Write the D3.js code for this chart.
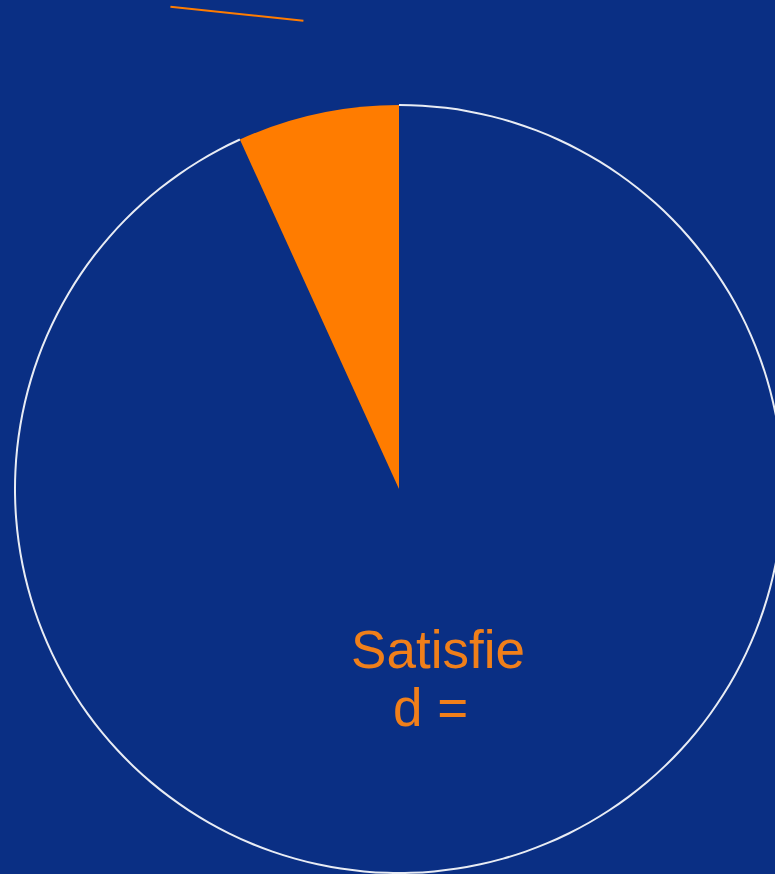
<!DOCTYPE html>
<html>
<head>
<meta charset="utf-8">
<script src="https://cdn.jsdelivr.net/npm/d3@7"></script>
<style>
  html, body { margin: 0; padding: 0; background: #0a2f84; overflow: hidden; }
  svg { display: block; }
</style>
</head>
<body>
<div id="viz"></div>
<script>
// pie data (percent)
const categories = ['Other', 'Satisfied'];
const values = [93.2, 6.8];
const labelLines = ['Satisfie', 'd = '];

const width = 775,
  height = 874,
  cx = 399,
  cy = 489,
  radius = 384;

const color = d3.scaleOrdinal()
  .domain(categories)
  .range(['#0a2f84', '#ff7c00']);

const svg = d3.select('#viz')
  .append('svg')
  .attr('width', width)
  .attr('height', height);

svg.append('rect')
  .attr('width', width)
  .attr('height', height)
  .attr('fill', '#0a2f84');

const g = svg.append('g')
  .attr('transform', 'translate(' + cx + ',' + cy + ')');

const pie = d3.pie()
  .sort(null)
  .value(d => d)
  (values);

const path = d3.arc()
  .outerRadius(radius)
  .innerRadius(0);

// thin white rim only along the outer edge of the big slice
const rim = d3.arc()
  .outerRadius(radius + 1)
  .innerRadius(radius - 1);

const arc = g.selectAll('.arc')
  .data(pie)
  .enter().append('g')
  .attr('class', 'arc');

arc.append('path')
  .attr('d', path)
  .attr('fill', (d, i) => color(categories[i]));

arc.filter((d, i) => i === 0)
  .append('path')
  .attr('d', rim)
  .attr('fill', '#e8ecf4');

// leader line for the small slice (label sits off the top)
const small = pie[1];
const mid = (small.startAngle + small.endAngle) / 2;
const lead = d3.arc().innerRadius(radius * 1.248).outerRadius(radius * 1.248);
const p0 = lead.centroid({ startAngle: mid, endAngle: mid });
g.append('line')
  .attr('x1', p0[0] + 6)
  .attr('y1', p0[1])
  .attr('x2', p0[0] + 6 - 133)
  .attr('y2', p0[1] - 14)
  .attr('stroke', '#ff7c00')
  .attr('stroke-width', 2);

// label of the big slice
const label = g.append('text')
  .attr('fill', '#f07f1a')
  .attr('font-family', 'Liberation Sans, Arial, sans-serif')
  .attr('font-size', 53)
  .attr('text-anchor', 'middle')
  .style('white-space', 'pre');

label.selectAll('tspan')
  .data(labelLines)
  .enter().append('tspan')
  .attr('x', 39)
  .attr('y', (d, i) => 179 + i * 58)
  .text(d => d);
</script>
</body>
</html>
